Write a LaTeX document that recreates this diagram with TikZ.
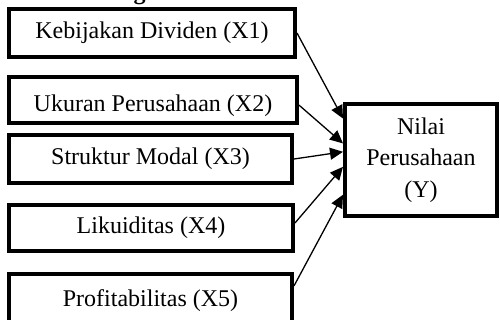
\documentclass[tikz,border=0pt]{standalone}
\usepackage{fontspec}
\setmainfont{Liberation Serif}
\usetikzlibrary{arrows.meta}
\begin{document}
\begin{tikzpicture}[x=0.5pt,y=-0.5pt,
  varbox/.style={draw,line width=2pt,fill=white,inner sep=0pt,
    font=\fontsize{12}{15.75}\selectfont},
  linkarrow/.style={line width=0.65pt,-{Triangle[length=6.5pt,width=6pt]}}]
 \useasboundingbox (0,0) rectangle (500,320);
 \clip (0,0) rectangle (500,320);
 \node [anchor=base west,inner sep=0pt,font=\fontsize{12}{14}\selectfont\bfseries] (title) at (5,0) {2.6\hspace{16.5pt}Kerangka Pemikiran};
 \node [varbox,minimum width=143pt,minimum height=24pt] (x1) at (152,33) {Kebijakan Dividen (X1)};
 \node [varbox,minimum width=144pt,minimum height=23pt,text height=12pt,text depth=0pt] (x2) at (153,100) {Ukuran Perusahaan (X2)};
 \node [varbox,minimum width=141.5pt,minimum height=24pt] (x3) at (150.5,159) {Struktur Modal (X3)};
 \node [varbox,minimum width=142pt,minimum height=23pt] (x4) at (151,228) {Likuiditas (X4)};
 \node [varbox,minimum width=141.5pt,minimum height=27pt] (x5) at (150.5,301) {Profitabilitas (X5)};
 \node [varbox,minimum width=76pt,minimum height=56pt,align=center] (y) at (421,160) {Nilai\\Perusahaan\\(Y)};
 \draw [linkarrow] (x1.east) -- (y.152);
 \draw [linkarrow] (x2.358) -- (y.168);
 \draw [linkarrow] (x3.east) -- (y.174);
 \draw [linkarrow] (x4.2) -- (y.185);
 \draw [linkarrow] (x5.6) -- (y.204);
\end{tikzpicture}
\end{document}
